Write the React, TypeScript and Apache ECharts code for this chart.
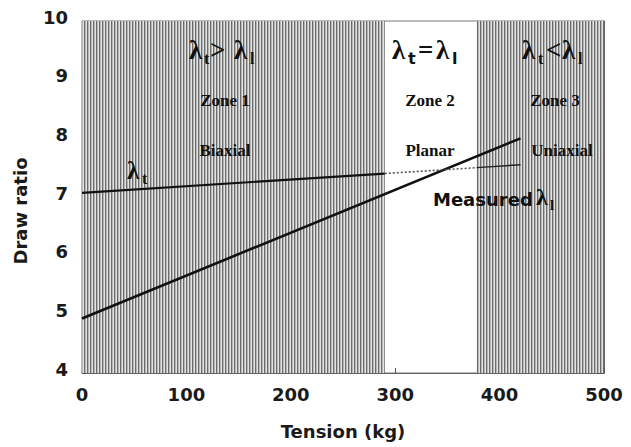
import React, { useEffect, useRef } from "react";
import * as echarts from "echarts";

// Axis ticks
const xTicks = [0, 100, 200, 300, 400, 500];
const yTicks = [4, 5, 6, 7, 8, 9, 10];

// Tension ranges of the hatched zones (Zone 1 and Zone 3); Zone 2 stays blank
const shadedZones: [number, number][] = [
  [0, 290],
  [378, 500],
];

// Measured longitudinal draw ratio λl
const measuredTension = [0, 420];
const measuredRatio = [4.93, 8.0];

// Transverse draw ratio λt (solid in zone 1, dotted in zone 2, thin in zone 3)
const lambdaTTension = [0, 290, 378, 420];
const lambdaTRatio = [7.07, 7.4, 7.5, 7.55];

const zoneNames = ["Zone 1", "Zone 2", "Zone 3"];
const zoneStates = ["Biaxial", "Planar", "Uniaxial"];

const SANS = "DejaVu Sans";
const SERIF = "Liberation Serif";

function stripeCanvas() {
  const c = document.createElement("canvas");
  c.width = 3;
  c.height = 2;
  const ctx = c.getContext("2d")!;
  const cols = ["#6c6c6c", "#b6b6b6", "#e4e4e4"];
  cols.forEach((col, i) => {
    ctx.fillStyle = col;
    ctx.fillRect(i, 0, 1, 2);
  });
  return c;
}

type Piece = { t: string; dx: number; sub?: boolean; sans?: boolean; size?: number; bold?: boolean };

// a row of glyphs: main symbols centred on y, subscripts dropped below
function formula(x: number, y: number, pieces: Piece[]) {
  return {
    type: "group",
    x,
    y,
    z: 50,
    children: pieces.map((p) => ({
      type: "text",
      x: p.dx,
      y: p.sub ? 8 : 0,
      z: 50,
      style: {
        text: p.t,
        fontFamily: p.sans ? SANS : SERIF,
        fontSize: p.size ?? (p.sub ? 16 : 27),
        fontWeight: p.bold === false ? "normal" : "bold",
        fill: "#111",
        align: "left",
        verticalAlign: "middle",
      },
    })),
  };
}

function label(x: number, y: number, text: string) {
  return {
    type: "text",
    x,
    y,
    z: 50,
    style: {
      text,
      fontFamily: SERIF,
      fontWeight: "bold",
      fontSize: 17,
      fill: "#111",
      align: "center",
      verticalAlign: "middle",
    },
  };
}

export default function App() {
  const ref = useRef<HTMLDivElement>(null);

  useEffect(() => {
    if (!ref.current) return;
    const chart = echarts.init(ref.current, undefined, { renderer: "svg" });
    const pattern = { image: stripeCanvas(), repeat: "repeat" };

    const axisLabel = {
      fontFamily: SANS,
      fontWeight: "bold" as const,
      fontSize: 18,
      color: "#1a1a1a",
    };

    chart.setOption({
      animation: false,
      backgroundColor: "#ffffff",
      grid: {
        left: 82,
        right: 27,
        top: 21,
        bottom: 74,
        show: true,
        borderColor: "#777",
        borderWidth: 1,
        backgroundColor: "transparent",
      },
      xAxis: {
        type: "value",
        min: xTicks[0],
        max: xTicks[xTicks.length - 1],
        interval: 100,
        name: "Tension (kg)",
        nameLocation: "middle",
        nameGap: 49,
        nameTextStyle: { ...axisLabel },
        axisLine: { show: true, lineStyle: { color: "#666" } },
        axisTick: { show: true, inside: true, length: 5, lineStyle: { color: "#555" } },
        axisLabel: { ...axisLabel, margin: 12 },
        splitLine: { show: false },
      },
      yAxis: [
        {
          type: "value",
          min: yTicks[0],
          max: yTicks[yTicks.length - 1],
          interval: 1,
          axisLine: { show: true, lineStyle: { color: "#666" } },
          axisTick: { show: true, inside: true, length: 6, lineStyle: { color: "#555" } },
          axisLabel: { ...axisLabel, margin: 14, verticalAlign: "bottom", lineHeight: 8 },
          splitLine: { show: false },
        },
        {
          type: "value",
          position: "right",
          min: yTicks[0],
          max: yTicks[yTicks.length - 1],
          interval: 1,
          axisLine: { show: true, lineStyle: { color: "#666" } },
          axisTick: { show: true, inside: true, length: 7, lineStyle: { color: "#555" } },
          axisLabel: { show: false },
          splitLine: { show: false },
        },
      ],
      series: [
        {
          type: "line",
          data: [],
          z: 1,
          silent: true,
          markArea: {
            silent: true,
            itemStyle: { color: pattern, opacity: 1 },
            data: shadedZones.map(([a, b]) => [{ xAxis: a }, { xAxis: b }]),
          },
        },
        {
          name: "Measured λl",
          type: "line",
          z: 5,
          symbol: "none",
          lineStyle: { color: "#111", width: 2.6 },
          data: measuredTension.map((t, i) => [t, measuredRatio[i]]),
        },
        {
          name: "λt zone 1",
          type: "line",
          z: 5,
          symbol: "none",
          lineStyle: { color: "#111", width: 2.2 },
          data: lambdaTTension.slice(0, 2).map((t, i) => [t, lambdaTRatio[i]]),
        },
        {
          name: "λt zone 2",
          type: "line",
          z: 5,
          symbol: "none",
          lineStyle: { color: "#555", width: 1.6, type: [2, 2] },
          data: lambdaTTension.slice(1, 3).map((t, i) => [t, lambdaTRatio[i + 1]]),
        },
        {
          name: "λt zone 3",
          type: "line",
          z: 5,
          symbol: "none",
          lineStyle: { color: "#222", width: 1.4 },
          data: lambdaTTension.slice(2, 4).map((t, i) => [t, lambdaTRatio[i + 2]]),
        },
      ],
      graphic: [
        {
          type: "text",
          x: 20,
          y: 211,
          rotation: Math.PI / 2,
          z: 50,
          style: {
            text: "Draw ratio",
            fontFamily: SANS,
            fontWeight: "bold",
            fontSize: 18,
            fill: "#1a1a1a",
            align: "center",
            verticalAlign: "middle",
          },
        },
        formula(189, 50, [
          { t: "λ", dx: 0 },
          { t: "t", dx: 15, sub: true },
          { t: ">", dx: 21 },
          { t: "λ", dx: 45 },
          { t: "l", dx: 61, sub: true },
        ]),
        formula(392, 50, [
          { t: "λ", dx: 0 },
          { t: "t", dx: 16, sub: true, sans: true },
          { t: "=", dx: 26 },
          { t: "λ", dx: 44 },
          { t: "l", dx: 60, sub: true, sans: true },
        ]),
        formula(522, 50, [
          { t: "λ", dx: 0 },
          { t: "t", dx: 16, sub: true },
          { t: "<", dx: 24 },
          { t: "λ", dx: 40 },
          { t: "l", dx: 56, sub: true },
        ]),
        label(225, 100, zoneNames[0]),
        label(430, 100, zoneNames[1]),
        label(555, 100, zoneNames[2]),
        label(225, 150, zoneStates[0]),
        label(430, 150, zoneStates[1]),
        label(562, 150, zoneStates[2]),
        formula(127, 170, [
          { t: "λ", dx: 0, size: 25 },
          { t: "t", dx: 15, sub: true },
        ]),
        {
          type: "text",
          x: 433,
          y: 199,
          z: 50,
          style: {
            text: "Measured",
            fontFamily: SANS,
            fontWeight: "bold",
            fontSize: 18,
            fill: "#111",
            align: "left",
            verticalAlign: "middle",
          },
        },
        formula(536, 197, [
          { t: "λ", dx: 0, size: 24 },
          { t: "l", dx: 14, sub: true, size: 15 },
        ]),
      ],
    });

    return () => chart.dispose();
  }, []);

  return (
    <div
      ref={ref}
      style={{ position: "absolute", left: 0, top: 0, width: 631, height: 447 }}
    />
  );
}
